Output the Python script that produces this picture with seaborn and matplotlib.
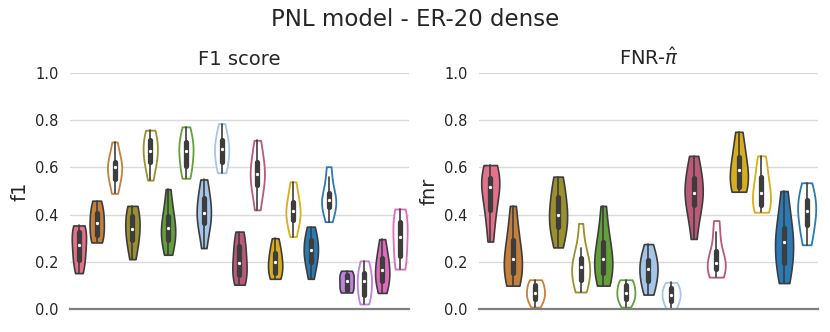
import numpy as np
import pandas as pd
import seaborn as sns
import matplotlib.pyplot as plt
from matplotlib.collections import PolyCollection

# ---------------- data ----------------
color_names = ["pink", "orange", "olive", "green", "lightblue",
               "crimson", "gold", "blue", "purple", "magenta"]
color_hex = ["#e6708a", "#c7803a", "#9b902f", "#64a03a", "#a4c6ea",
             "#b85a78", "#d8ae1a", "#2a7ab5", "#c080e2", "#df6bbf"]

# F1 score panel: violins in drawing order ("*" = hollow variant)
f1_labels = ["pink", "orange", "orange*", "olive", "olive*", "green", "green*",
             "lightblue", "lightblue*", "crimson", "crimson*", "gold", "gold*",
             "blue", "blue*", "purple", "purple*", "magenta", "magenta*"]
f1_pink = [.152, .19, .208, .245, .272, .30, .328, .345, .354]
f1_orange = [.282, .292, .314, .34, .366, .39, .406, .44, .459]
f1_orange_h = [.490, .53, .553, .585, .600, .61, .624, .66, .708]
f1_olive = [.211, .26, .293, .32, .339, .37, .394, .425, .437]
f1_olive_h = [.546, .60, .624, .65, .670, .69, .715, .745, .758]
f1_green = [.230, .27, .293, .32, .342, .36, .394, .44, .508]
f1_green_h = [.554, .585, .606, .65, .670, .685, .708, .74, .772]
f1_lightblue = [.258, .33, .363, .39, .406, .43, .469, .50, .549]
f1_lightblue_h = [.577, .60, .624, .66, .676, .69, .715, .745, .786]
f1_crimson = [.103, .12, .145, .17, .197, .23, .265, .30, .328]
f1_crimson_h = [.420, .48, .525, .555, .570, .59, .624, .67, .715]
f1_gold = [.128, .14, .152, .18, .199, .215, .239, .27, .300]
f1_gold_h = [.307, .35, .377, .40, .417, .43, .455, .50, .539]
f1_blue = [.128, .18, .201, .23, .251, .265, .293, .32, .349]
f1_blue_h = [.370, .41, .434, .45, .462, .475, .490, .56, .603]
f1_purple = [.070, .075, .082, .10, .117, .13, .145, .155, .162]
f1_purple_h = [.021, .045, .061, .09, .117, .13, .152, .18, .204]
f1_magenta = [.068, .10, .117, .145, .166, .185, .215, .25, .296]
f1_magenta_h = [.169, .18, .223, .27, .307, .34, .370, .41, .424]

# FNR panel
fnr_labels = ["pink", "orange", "orange*", "olive", "olive*", "green", "green*",
              "lightblue", "lightblue*", "crimson", "crimson*", "gold", "gold*",
              "blue", "blue*"]
fnr_pink = [.286, .38, .420, .49, .518, .535, .554, .59, .610]
fnr_orange = [.099, .12, .152, .19, .211, .24, .293, .35, .437]
fnr_orange_h = [.008, .03, .042, .06, .068, .08, .103, .115, .124]
fnr_olive = [.261, .31, .349, .38, .399, .43, .476, .52, .561]
fnr_olive_h = [.072, .10, .124, .16, .177, .19, .215, .258, .363]
fnr_green = [.099, .13, .152, .19, .211, .24, .286, .34, .437]
fnr_green_h = [.008, .03, .042, .058, .068, .082, .103, .115, .124]
fnr_lightblue = [.061, .09, .117, .15, .169, .185, .208, .24, .275]
fnr_lightblue_h = [.0, .02, .032, .05, .061, .07, .089, .10, .113]
fnr_crimson = [.297, .39, .441, .47, .493, .52, .554, .60, .649]
fnr_crimson_h = [.135, .15, .17, .185, .194, .21, .245, .328, .375]
fnr_gold = [.497, .505, .518, .56, .589, .61, .645, .70, .751]
fnr_gold_h = [.410, .42, .441, .47, .493, .52, .561, .61, .649]
fnr_blue = [.110, .16, .194, .25, .286, .31, .342, .42, .500]
fnr_blue_h = [.272, .31, .356, .39, .417, .44, .462, .50, .535]

f1_samples = [f1_pink, f1_orange, f1_orange_h, f1_olive, f1_olive_h, f1_green,
              f1_green_h, f1_lightblue, f1_lightblue_h, f1_crimson, f1_crimson_h,
              f1_gold, f1_gold_h, f1_blue, f1_blue_h, f1_purple, f1_purple_h,
              f1_magenta, f1_magenta_h]
fnr_samples = [fnr_pink, fnr_orange, fnr_orange_h, fnr_olive, fnr_olive_h,
               fnr_green, fnr_green_h, fnr_lightblue, fnr_lightblue_h,
               fnr_crimson, fnr_crimson_h, fnr_gold, fnr_gold_h, fnr_blue,
               fnr_blue_h]

yticks = [0.0, 0.2, 0.4, 0.6, 0.8, 1.0]

# ---------------- style ----------------
sns.set_theme(style="whitegrid")
plt.rcParams["font.family"] = ["DejaVu Sans"]
plt.rcParams["grid.color"] = "#dadada"

cmap = dict(zip(color_names, color_hex))
EDGE = "#3d3d3d"


def draw(ax, labels, samples, ylabel, title):
    rows = [(lab, v) for lab, s in zip(labels, samples) for v in s]
    df = pd.DataFrame(rows, columns=["method", "value"])
    pal = {lab: cmap[lab.rstrip("*")] for lab in labels}
    sns.violinplot(data=df, x="method", y="value", hue="method",
                   order=labels, hue_order=labels, palette=pal, saturation=1,
                   cut=0, inner="box", density_norm="width", width=0.8,
                   bw_adjust=1.1, linewidth=1.2, linecolor=EDGE, legend=False,
                   ax=ax, inner_kws=dict(box_width=3.8, whis_width=1.2,
                                         marker="."))
    polys = [c for c in ax.collections if isinstance(c, PolyCollection)]
    for poly in polys:
        v = poly.get_paths()[0].vertices
        xc = int(round((v[:, 0].min() + v[:, 0].max()) / 2))
        lab = labels[xc]
        if lab.endswith("*"):
            poly.set_facecolor("white")
            poly.set_edgecolor(pal[lab])
            poly.set_linewidth(1.3)
    ax.set_ylim(0, 1.0)
    ax.set_xlim(-0.5, len(labels) - 0.5)
    ax.set_yticks(yticks)
    ax.set_yticklabels([f"{t:.1f}" for t in yticks], fontsize=10.5)
    ax.set_xticks([])
    ax.set_xlabel("")
    ax.set_ylabel(ylabel, fontsize=14)
    ax.set_title(title, fontsize=14)
    ax.tick_params(axis="y", length=0, pad=8)
    for side in ["top", "right", "left"]:
        ax.spines[side].set_visible(False)
    ax.spines["bottom"].set_color("#7f7f7f")
    ax.spines["bottom"].set_linewidth(1.6)


fig, axes = plt.subplots(1, 2, figsize=(8.3, 3.32), dpi=100)
fig.subplots_adjust(left=0.0843, right=0.9855, bottom=0.0693, top=0.780,
                    wspace=0.2065)
draw(axes[0], f1_labels, f1_samples, "f1", "F1 score")
draw(axes[1], fnr_labels, fnr_samples, "fnr", r"FNR-$\hat{\pi}$")
fig.suptitle("PNL model - ER-20 dense", fontsize=16.5, y=0.975)
fig.savefig("out.png", dpi=100)
